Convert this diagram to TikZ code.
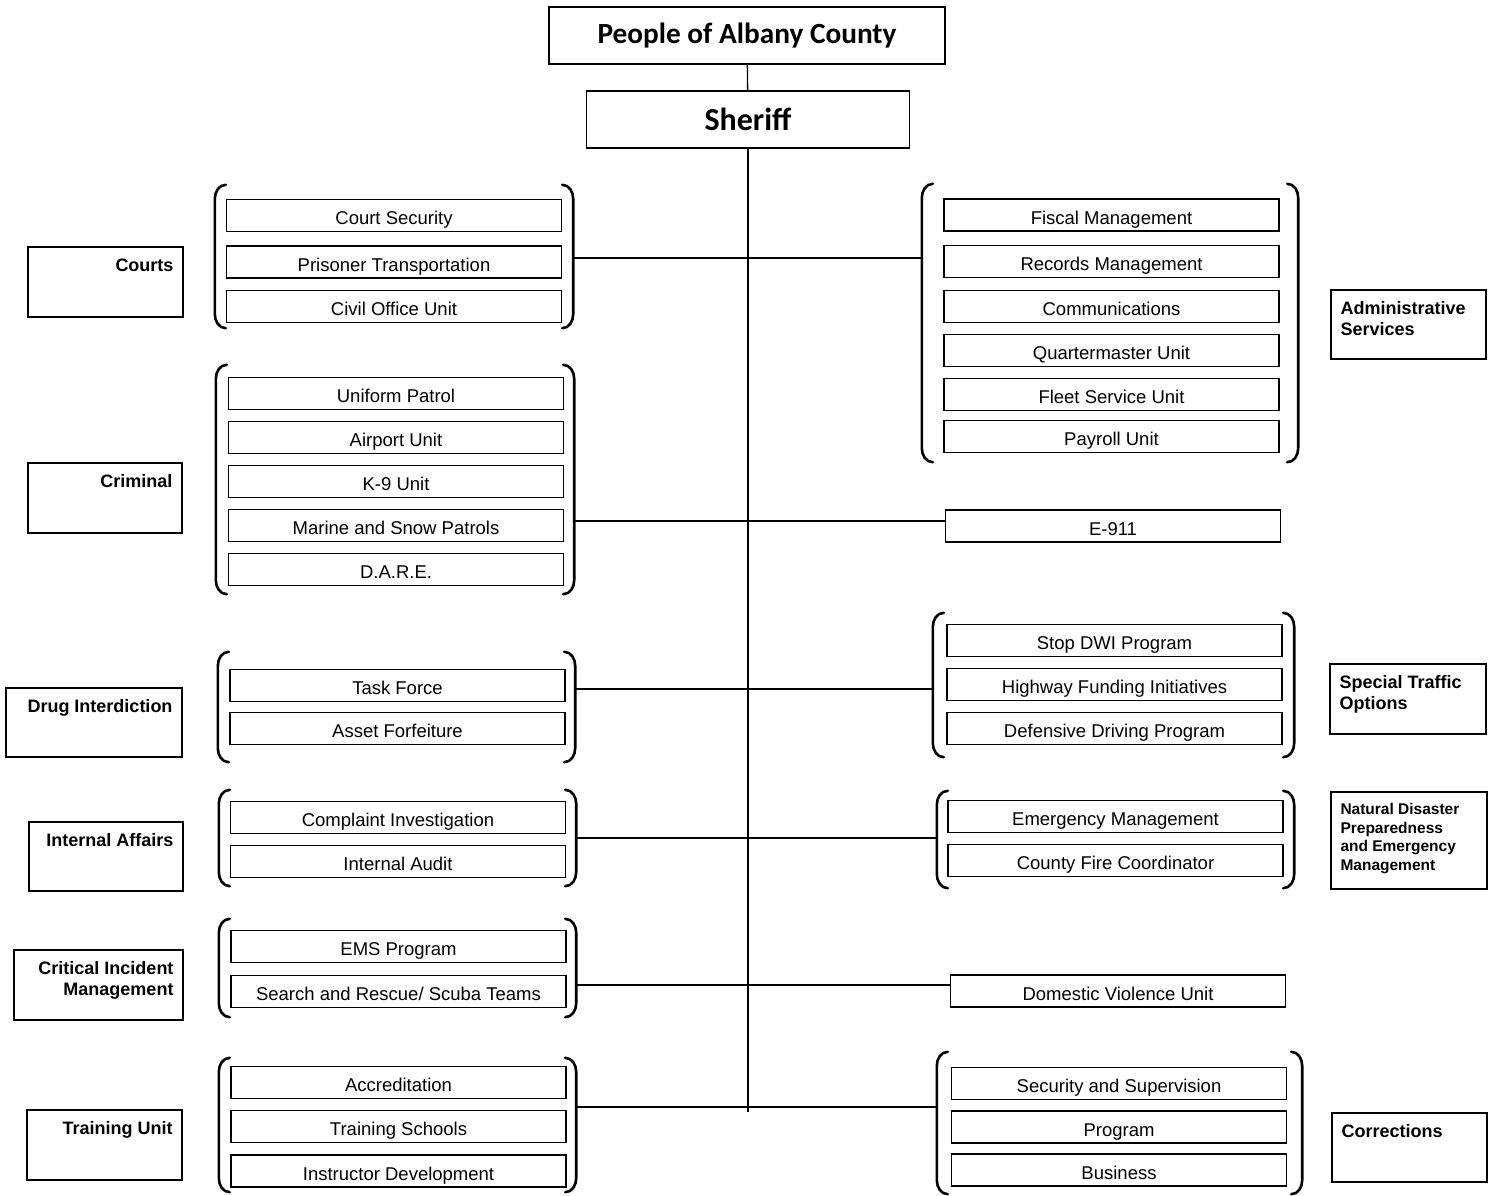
\documentclass[tikz,border=0pt]{standalone}
\usepackage{fontspec}
\setmainfont{Liberation Sans}
\newfontfamily\titlefont{Carlito}
\usepackage{tikz}
\usetikzlibrary{positioning}

\begin{document}
\begin{tikzpicture}[x=1pt,y=-1pt,
  unit/.style={draw, line width=1.4pt, minimum width=335pt, minimum height=32pt, inner sep=0pt, text height=18pt, text depth=0pt, font=\fontsize{18.5}{21}\selectfont},
  section/.style={draw, line width=1.4pt, inner sep=0pt},
  sectiontext/.style={inner sep=0pt, font=\fontsize{18}{21}\selectfont\bfseries},
  cluster/.style={inner sep=0pt},
  bracket/.style={line width=2.6pt, line cap=round},
  bar/.style={line width=1.3pt},
  head/.style={draw, line width=1.4pt, minimum height=57pt, inner sep=0pt, font=\titlefont\bfseries}]
\useasboundingbox (0,0) rectangle (1493,1196);
% \draw[help lines, dashed, red] (0,0) grid[step=100] (1493,1196);
\node[head, minimum width=396pt, font=\titlefont\bfseries\fontsize{29.3}{33}\selectfont] (people) at (747,35.5) {People of Albany County};
\node[head, minimum width=323pt, font=\titlefont\bfseries\fontsize{32}{36}\selectfont] (sheriff) at (748,119.5) {Sheriff};
\coordinate (spineend) at (748,1112);
\draw[bar] (people) -- (sheriff);
\draw[bar] (sheriff) -- (spineend);

% bracket groups
\node[cluster, minimum width=358pt, minimum height=143pt] (courtsG) at (394,256.5) {};
\node[cluster, minimum width=358pt, minimum height=229pt] (crimG) at (395,479.5) {};
\node[cluster, minimum width=357pt, minimum height=110pt] (drugG) at (396.5,707) {};
\node[cluster, minimum width=357pt, minimum height=96pt] (iaG) at (397.5,838) {};
\node[cluster, minimum width=357pt, minimum height=98pt] (ciG) at (397.5,968) {};
\node[cluster, minimum width=357pt, minimum height=134pt] (trainG) at (397.5,1125) {};
\node[cluster, minimum width=376pt, minimum height=278pt] (adminG) at (1110,323) {};
\node[cluster, minimum width=361pt, minimum height=144pt] (trafficG) at (1113.5,685) {};
\node[cluster, minimum width=357pt, minimum height=97pt] (ndG) at (1115.5,839.5) {};
\node[cluster, minimum width=365pt, minimum height=142pt] (corrG) at (1119.5,1123) {};
\foreach \g in {courtsG,crimG,drugG,iaG,ciG,trainG,adminG,trafficG,ndG,corrG}{
  \draw[bracket] ([xshift=11pt]\g.north west) to[out=180,in=90] ([yshift=-14pt]\g.north west)
    -- ([yshift=14pt]\g.south west) to[out=-90,in=180] ([xshift=11pt]\g.south west);
  \draw[bracket] ([xshift=-11pt]\g.north east) to[out=0,in=90] ([yshift=-14pt]\g.north east)
    -- ([yshift=14pt]\g.south east) to[out=-90,in=0] ([xshift=-11pt]\g.south east);
}

% units, left column
\foreach \n/\y/\t in {cs/215.5/Court Security, pt/262/Prisoner Transportation, cou/306.5/Civil Office Unit}
  \node[unit] (\n) at (394,\y) {\t};
\foreach \n/\y/\t in {up/393.5/Uniform Patrol, au/437.5/Airport Unit, k9/481.5/K-9 Unit, msp/525.5/Marine and Snow Patrols, dare/569.5/D.A.R.E.}
  \node[unit] (\n) at (396,\y) {\t};
\foreach \n/\y/\t in {tf/685.5/Task Force, af/728.5/Asset Forfeiture}
  \node[unit] (\n) at (397.5,\y) {\t};
\foreach \n/\y/\t in {ci/817.5/Complaint Investigation, iau/861.5/Internal Audit}
  \node[unit] (\n) at (398,\y) {\t};
\foreach \n/\y/\t in {ems/946.5/EMS Program, sar/991.5/{Search and Rescue/ Scuba Teams}}
  \node[unit] (\n) at (398.5,\y) {\t};
\foreach \n/\y/\t in {acc/1082.5/Accreditation, ts/1126.5/Training Schools, idv/1171/Instructor Development}
  \node[unit] (\n) at (398.5,\y) {\t};

% units, right column
\foreach \n/\y/\t in {fm/215/Fiscal Management, rm/261.5/Records Management, com/306.5/Communications, qm/350.5/Quartermaster Unit, fsu/394.5/Fleet Service Unit, pay/436.5/Payroll Unit}
  \node[unit] (\n) at (1111.5,\y) {\t};
\node[unit] (e911) at (1113,526) {E-911};
\foreach \n/\y/\t in {dwi/640.5/Stop DWI Program, hfi/684.5/Highway Funding Initiatives, ddp/728.5/Defensive Driving Program}
  \node[unit] (\n) at (1114.5,\y) {\t};
\foreach \n/\y/\t in {em/816.5/Emergency Management, cfc/860.5/County Fire Coordinator}
  \node[unit] (\n) at (1115.5,\y) {\t};
\node[unit] (dvu) at (1118,991) {Domestic Violence Unit};
\foreach \n/\y/\t in {sas/1083.5/Security and Supervision, prog/1127/Program, bus/1170/Business}
  \node[unit] (\n) at (1119,\y) {\t};

% section boxes
\node[section, minimum width=155pt, minimum height=70pt] (courts) at (105.5,282) {};
\node[section, minimum width=154pt, minimum height=70pt] (criminal) at (105,498) {};
\node[section, minimum width=176pt, minimum height=69pt] (drug) at (94,722.5) {};
\node[section, minimum width=154pt, minimum height=69pt] (internal) at (106,856.5) {};
\node[section, minimum width=169pt, minimum height=70pt] (critical) at (98.5,985) {};
\node[section, minimum width=155pt, minimum height=70pt] (training) at (104.5,1145) {};
\node[section, minimum width=155pt, minimum height=69pt] (admin) at (1408.5,324.5) {};
\node[section, minimum width=156pt, minimum height=70pt] (traffic) at (1408,699) {};
\node[section, minimum width=156pt, minimum height=97pt] (natural) at (1409,840.5) {};
\node[section, minimum width=155pt, minimum height=69pt] (corrections) at (1409.5,1147.5) {};
\node[sectiontext, anchor=north east] (courtsT) at ([xshift=-10pt,yshift=-12pt]courts.north east) {Courts};
\node[sectiontext, anchor=north east] (criminalT) at ([xshift=-10pt,yshift=-12pt]criminal.north east) {Criminal};
\node[sectiontext, anchor=north east] (drugT) at ([xshift=-10pt,yshift=-12pt]drug.north east) {Drug Interdiction};
\node[sectiontext, anchor=north east] (internalT) at ([xshift=-10pt,yshift=-12pt]internal.north east) {Internal Affairs};
\node[sectiontext, anchor=north east, align=right] (criticalT) at ([xshift=-10pt,yshift=-12pt]critical.north east) {Critical Incident\\Management};
\node[sectiontext, anchor=north east] (trainingT) at ([xshift=-10pt,yshift=-12pt]training.north east) {Training Unit};
\node[sectiontext, anchor=north west, align=left] (adminT) at ([xshift=10pt,yshift=-12pt]admin.north west) {Administrative\\Services};
\node[sectiontext, anchor=north west, align=left] (trafficT) at ([xshift=10pt,yshift=-12pt]traffic.north west) {Special Traffic\\Options};
\node[sectiontext, anchor=north west, align=left, font=\fontsize{15.5}{18.5}\selectfont\bfseries] (naturalT) at ([xshift=10pt,yshift=-12pt]natural.north west) {Natural Disaster\\Preparedness\\and Emergency\\Management};
\node[sectiontext, anchor=north west] (correctionsT) at ([xshift=10pt,yshift=-12pt]corrections.north west) {Corrections};

% connectors across the spine
\coordinate (j1) at (748,258);
\coordinate (j2) at (748,521);
\coordinate (j3) at (748,689);
\coordinate (j4) at (748,838);
\coordinate (j5) at (748,985);
\coordinate (j6) at (748,1107);
\draw[bar] (courtsG.east |- j1) -- (adminG.west |- j1);
\draw[bar] (crimG.east |- j2) -- (e911.west |- j2);
\draw[bar] (drugG.east |- j3) -- (trafficG.west |- j3);
\draw[bar] (iaG.east |- j4) -- (ndG.west |- j4);
\draw[bar] (ciG.east |- j5) -- (dvu.west |- j5);
\draw[bar] (trainG.east |- j6) -- (corrG.west |- j6);
\end{tikzpicture}
\end{document}
